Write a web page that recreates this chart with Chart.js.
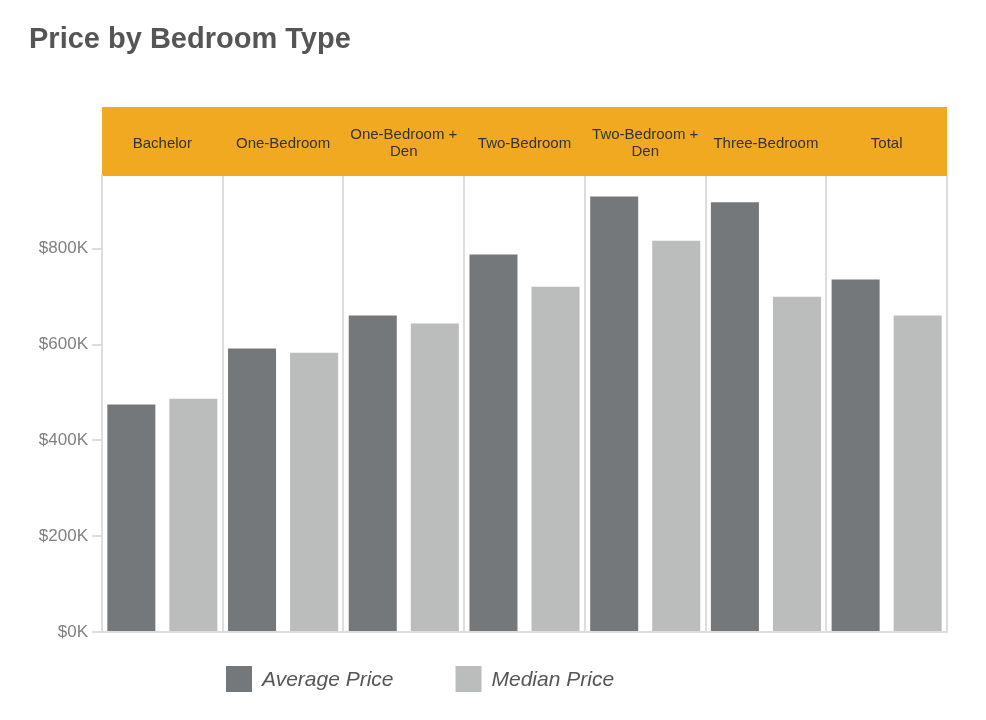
<!DOCTYPE html>
<html><head><meta charset="utf-8">
<script src="https://cdn.jsdelivr.net/npm/chart.js@4"></script>
<style>html,body{margin:0;padding:0;background:#fff}#wrap{width:986px;height:720px;position:relative}</style>
</head><body><div id="wrap"><canvas id="c" width="986" height="720"></canvas></div>
<script>
const titleText = "Price by Bedroom Type";
const categories = [["Bachelor"],["One-Bedroom"],["One-Bedroom +","Den"],["Two-Bedroom"],["Two-Bedroom +","Den"],["Three-Bedroom"],["Total"]];
const seriesNames = ["Average Price","Median Price"];
const averagePrice = [475000,592000,661000,788000,909000,897000,736000];
const medianPrice = [487000,583000,644000,721000,817000,700000,661000];
const yTicks = [0,200000,400000,600000,800000];

const FONT = '"Liberation Sans", Arial, sans-serif';

const decor = {
  id: 'decor',
  beforeDraw(chart) {
    const {ctx, chartArea: a, scales: {x}} = chart;
    ctx.save();
    ctx.fillStyle = '#fff';
    ctx.fillRect(0, 0, chart.width, chart.height);
    ctx.fillStyle = '#555';
    ctx.font = 'bold 29px ' + FONT;
    ctx.textAlign = 'left';
    ctx.textBaseline = 'alphabetic';
    ctx.fillText(titleText, 29, 48);
    const bandH = 69;
    ctx.fillStyle = '#F2A922';
    ctx.fillRect(a.left, a.top - bandH, a.right - a.left, bandH);
    ctx.fillStyle = '#333';
    ctx.font = '15px ' + FONT;
    ctx.textAlign = 'center';
    ctx.textBaseline = 'middle';
    const mid = a.top - bandH / 2 + 2;
    const lh = 17;
    chart.data.labels.forEach((lab, i) => {
      const px = x.getPixelForValue(i);
      const y0 = mid - (lab.length - 1) * lh / 2;
      lab.forEach((t, j) => ctx.fillText(t, px, y0 + j * lh));
    });
    ctx.restore();
  },
  afterDraw(chart) {
    const {ctx} = chart;
    ctx.save();
    ctx.font = 'italic 21px ' + FONT;
    ctx.textAlign = 'left';
    ctx.textBaseline = 'middle';
    let xPos = 226;
    const top = 666, box = 26;
    chart.data.datasets.forEach(d => {
      ctx.fillStyle = d.backgroundColor;
      ctx.fillRect(xPos, top, box, box);
      ctx.fillStyle = '#555';
      ctx.fillText(d.label, xPos + box + 10, top + box / 2 + 1);
      xPos += box + 10 + ctx.measureText(d.label).width + 62;
    });
    ctx.restore();
  }
};

new Chart(document.getElementById('c'), {
  type: 'bar',
  data: {
    labels: categories,
    datasets: [
      {label: seriesNames[0], data: averagePrice, backgroundColor: '#75787B', categoryPercentage: 1.028, barPercentage: 0.774},
      {label: seriesNames[1], data: medianPrice, backgroundColor: '#BBBCBC', categoryPercentage: 1.028, barPercentage: 0.774}
    ]
  },
  options: {
    responsive: false,
    animation: false,
    events: [],
    layout: {padding: {left: 0, right: 39, top: 176, bottom: 88}},
    plugins: {legend: {display: false}, title: {display: false}, tooltip: {enabled: false}},
    scales: {
      x: {
        position: 'bottom',
        ticks: {display: false},
        grid: {offset: true, color: '#DDDDDD', lineWidth: 2, drawTicks: false},
        border: {display: true, color: '#DDDDDD', width: 2},
        afterFit(s) { s.height = 0; }
      },
      y: {
        min: 0,
        max: 952000,
        afterBuildTicks(s) { s.ticks = yTicks.map(v => ({value: v})); },
        ticks: {
          color: '#808080',
          font: {family: FONT, size: 17},
          padding: 4,
          callback: v => '$' + (v / 1000) + 'K'
        },
        grid: {drawOnChartArea: false, drawTicks: true, tickLength: 10, color: '#DDDDDD', lineWidth: 2},
        border: {display: true, color: '#DDDDDD', width: 2},
        afterFit(s) { s.width = 102; }
      }
    }
  },
  plugins: [decor]
});
</script></body></html>
